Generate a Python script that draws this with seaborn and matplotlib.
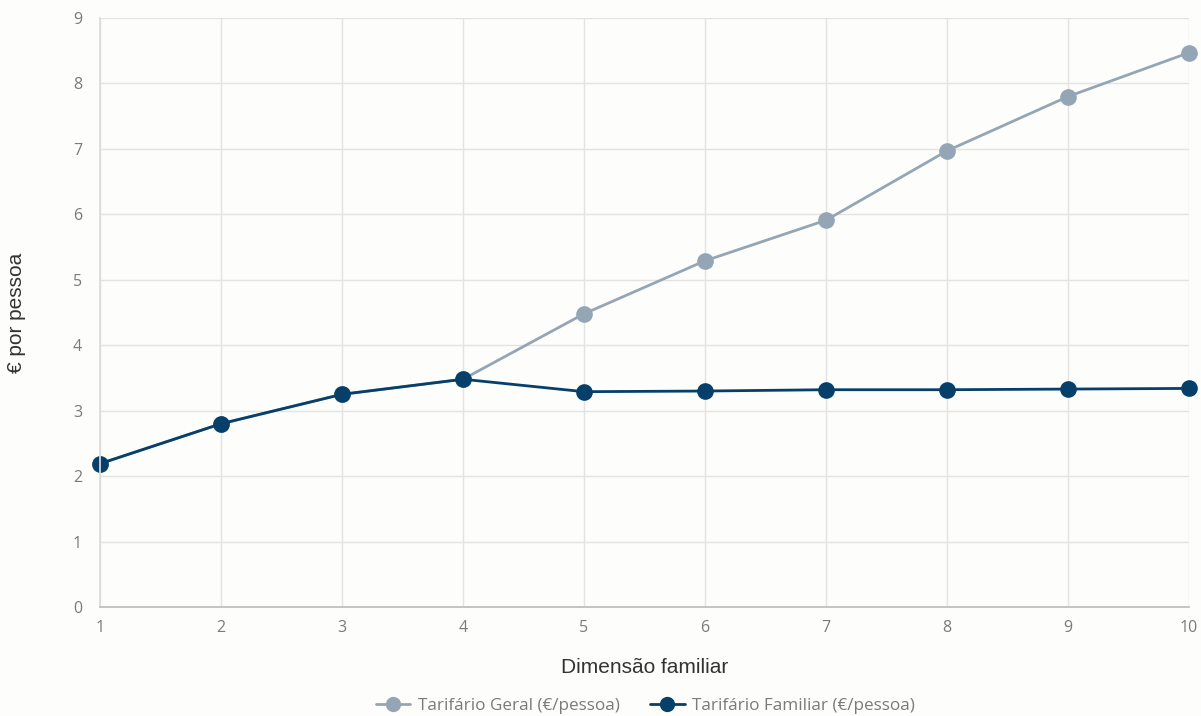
import matplotlib
matplotlib.use("Agg")
import matplotlib.pyplot as plt
import seaborn as sns
import pandas as pd
from matplotlib.lines import Line2D

dimensao = [1, 2, 3, 4, 5, 6, 7, 8, 9, 10]
tarifario_geral = [2.19, 2.80, 3.25, 3.48, 4.48, 5.29, 5.91, 6.97, 7.80, 8.47]
tarifario_familiar = [2.19, 2.80, 3.25, 3.48, 3.29, 3.30, 3.32, 3.32, 3.33, 3.34]
series_names = ["Tarifário Geral (€/pessoa)", "Tarifário Familiar (€/pessoa)"]
colors = ["#94a6b5", "#073f6b"]
y_ticks = [0, 1, 2, 3, 4, 5, 6, 7, 8, 9]

df = pd.DataFrame({
    "x": dimensao * 2,
    "y": tarifario_geral + tarifario_familiar,
    "serie": [series_names[0]] * len(dimensao) + [series_names[1]] * len(dimensao),
})

sns.set_theme(style="white")
plt.rcParams['font.family'] = ['Open Sans', 'DejaVu Sans']
bg = "#fdfdfb"
fig = plt.figure(figsize=(12.01, 7.16), dpi=100, facecolor=bg)
ax = fig.add_axes([100/1201, 1 - 607/716, 1089/1201, 589/716])
ax.set_facecolor(bg)

sns.lineplot(data=df, x="x", y="y", hue="serie", palette=colors, hue_order=series_names,
             marker="o", markersize=12, markeredgewidth=0, linewidth=2, ax=ax, legend=False)

ax.set_xlim(1, 10)
ax.set_ylim(0, 9)
ax.set_xticks(dimensao)
ax.set_yticks(y_ticks)
ax.grid(True, color="#e3e3e3", linewidth=1)
ax.set_axisbelow(True)
for s in ["top", "right"]:
    ax.spines[s].set_visible(False)
ax.spines["left"].set_color("#dcdcdc")
ax.spines["bottom"].set_color("#bdbdbd")
ax.tick_params(axis="both", colors="#7a7a7a", labelsize=11.5, length=0)
for lab in ax.get_xticklabels() + ax.get_yticklabels():
    lab.set_color("#7a7a7a")
ax.tick_params(axis="x", pad=9)
ax.tick_params(axis="y", pad=13)
ax.set_xlabel("Dimensão familiar", fontsize=15, color="#333333", labelpad=16,
              family=["Liberation Sans", "DejaVu Sans"])
ax.set_ylabel("€ por pessoa", fontsize=15, color="#333333", labelpad=0,
              family=["Liberation Sans", "DejaVu Sans"])
ax.yaxis.set_label_coords(-(100 - 26) / 1089, 0.5)
for sp in ax.spines.values():
    sp.set_clip_on(False)
for ln in ax.lines:
    ln.set_clip_on(False)

handles = [Line2D([0], [0], color=c, marker="o", markersize=11, markeredgewidth=0, linewidth=2)
           for c in colors]
fig.legend(handles, series_names, loc="center", bbox_to_anchor=(0.5375, 1 - 706/716),
           ncol=2, frameon=False, fontsize=12.3, labelcolor="#7a7a7a",
           handlelength=2.0, columnspacing=1.8, handletextpad=0.45)

fig.savefig("out.png", dpi=100, facecolor=bg)
